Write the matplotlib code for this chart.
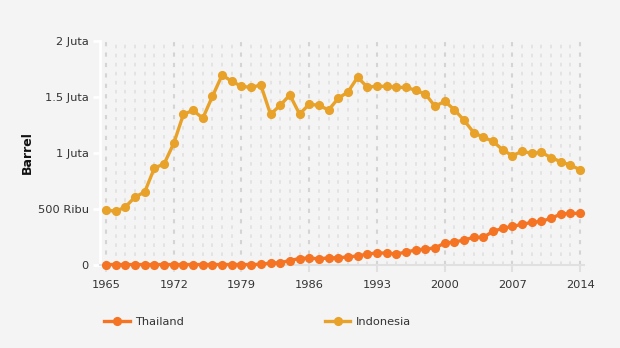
import matplotlib
matplotlib.use("Agg")
import matplotlib.pyplot as plt
from matplotlib.ticker import FixedLocator, MultipleLocator

years = list(range(1965, 2015))

thailand = [0.004, 0.004, 0.004, 0.004, 0.004, 0.004, 0.004, 0.004, 0.004, 0.004,
            0.004, 0.004, 0.004, 0.004, 0.004, 0.004, 0.006, 0.018, 0.020, 0.040,
            0.058, 0.063, 0.054, 0.064, 0.064, 0.073, 0.080, 0.098, 0.107, 0.107,
            0.098, 0.116, 0.134, 0.143, 0.152, 0.196, 0.205, 0.223, 0.247, 0.247,
            0.301, 0.327, 0.345, 0.363, 0.381, 0.390, 0.417, 0.455, 0.461, 0.461]

indonesia = [0.491, 0.479, 0.518, 0.607, 0.652, 0.866, 0.902, 1.086, 1.345, 1.381,
             1.310, 1.506, 1.696, 1.640, 1.595, 1.586, 1.607, 1.345, 1.426, 1.518,
             1.348, 1.435, 1.426, 1.384, 1.488, 1.545, 1.676, 1.589, 1.595, 1.595,
             1.586, 1.586, 1.560, 1.527, 1.417, 1.461, 1.387, 1.292, 1.182, 1.140,
             1.104, 1.027, 0.976, 1.015, 0.997, 1.006, 0.958, 0.923, 0.890, 0.851]

series = [("Thailand", thailand, "#F47424"), ("Indonesia", indonesia, "#E8A229")]

y_ticks = [0, 0.5, 1.0, 1.5, 2.0]
y_tick_labels = ["0", "500 Ribu", "1 Juta", "1.5 Juta", "2 Juta"]
x_ticks = [1965, 1972, 1979, 1986, 1993, 2000, 2007, 2014]

bg = "#F4F4F4"
plt.rcParams["font.family"] = ["DejaVu Sans"]

fig = plt.figure(figsize=(6.2, 3.48), dpi=100, facecolor=bg)
ax = fig.add_axes([0.1613, 0.2385, 0.781, 0.6437], facecolor=bg)

for name, vals, color in series:
    ax.plot(years, [v * 1e6 for v in vals], color=color, lw=2.4, marker="o",
            markersize=6.6, markeredgewidth=0, label=name, clip_on=False, zorder=3)

ax.set_xlim(1964.38, 2014.42)
ax.set_ylim(0, 2e6)

ax.xaxis.set_major_locator(FixedLocator(x_ticks))
ax.xaxis.set_minor_locator(MultipleLocator(1))
ax.set_xticklabels([str(t) for t in x_ticks])
ax.set_yticks([t * 1e6 for t in y_ticks])
ax.set_yticklabels(y_tick_labels)

ax.grid(axis="x", which="minor", color="#E2E2E2", lw=1.3, ls=(0, (2, 3)))
ax.grid(axis="x", which="major", color="#D4D4D4", lw=1.5, ls=(0, (2, 3)))
ax.set_axisbelow(True)

for s in ["top", "right"]:
    ax.spines[s].set_visible(False)
ax.spines["left"].set_color("white")
ax.spines["left"].set_linewidth(2)
ax.spines["bottom"].set_color("#E0E0E0")
ax.spines["bottom"].set_linewidth(1.5)

ax.tick_params(axis="y", which="major", length=5, width=2, color="white",
               labelsize=8.2, labelcolor="#333333", pad=3)
ax.tick_params(axis="x", which="major", length=5, width=1.5, color="#E0E0E0",
               labelsize=8.2, labelcolor="#333333", pad=6)
ax.tick_params(axis="x", which="minor", length=0)

ax.set_ylabel("Barrel", fontsize=9, fontweight="bold", color="#111111", labelpad=3)

fig.legend(loc="lower left", bbox_to_anchor=(0.152, 0.03), ncol=2,
           frameon=False, fontsize=8.2, handlelength=2.2, columnspacing=12.4,
           handletextpad=0.5, labelcolor="#333333")

fig.savefig("out.png", dpi=100, facecolor=bg)
